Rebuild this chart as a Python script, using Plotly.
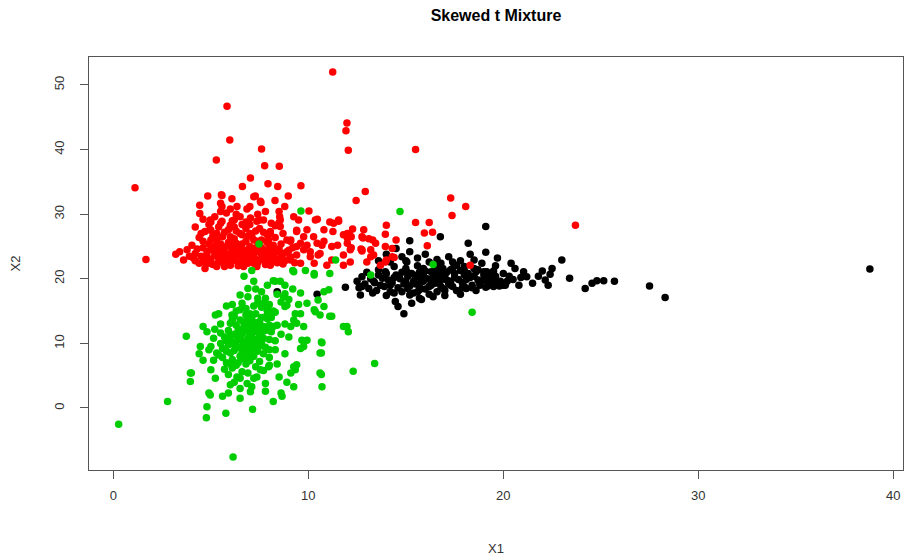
import plotly.graph_objects as go

# Cluster 1 (red): upper group, heavy tail upward
red_pts = [
    (11.25, 52.0), (5.83, 46.7), (5.97, 41.5), (11.98, 44.1), (11.93, 42.9), (12.05, 39.9),
    (7.6, 40.1), (5.28, 38.4), (7.76, 37.5), (8.51, 37.4), (7.03, 35.6), (6.62, 34.3),
    (7.93, 34.7), (8.43, 34.3), (9.62, 34.4), (1.11, 34.1), (12.92, 33.5), (12.45, 32.1),
    (15.5, 40.0), (17.3, 32.5), (18.07, 31.2), (17.37, 29.8), (15.5, 28.7), (16.2, 28.7),
    (15.95, 27.1), (16.37, 27.2), (16.1, 25.1), (23.7, 28.3), (18.3, 22.1), (14.0, 28.3),
    (13.95, 26.9), (13.45, 25.5), (12.84, 27.6), (12.27, 27.7), (11.55, 28.9), (11.1, 28.8),
    (11.8, 26.8), (4.84, 32.8), (5.57, 32.9), (6.08, 32.4), (7.2, 32.7), (7.57, 31.8),
    (8.29, 32.1), (8.97, 32.8), (8.79, 31.2), (10.03, 30.5), (10.46, 29.2), (4.43, 31.4),
    (4.43, 30.1), (5.57, 31.2), (7.0, 31.2), (6.34, 31.2), (6.85, 30.8), (5.5, 30.4),
    (9.93, 27.6), (9.4, 27.5), (8.56, 29.1), (8.56, 28.1), (8.05, 27.0), (7.5, 29.1),
    (6.2, 29.1), (5.0, 28.8), (5.0, 27.5), (10.27, 26.5), (10.7, 25.2), (11.2, 25.0),
    (3.2, 23.8), (1.67, 23.0), (12.2, 24.8), (12.7, 24.6), (13.2, 24.5), (12.0, 26.3),
    (12.8, 26.3), (13.3, 26.0), (12.75, 24.3), (13.35, 23.7), (13.7, 22.1), (13.95, 22.6),
    (14.3, 23.4), (14.3, 24.7), (12.15, 22.6), (11.5, 25.2), (14.5, 26.0), (14.4, 23.3),
    (12.75, 26.5), (13.1, 26.2), (13.0, 22.6), (14.0, 22.9), (12.1, 27.0), (12.0, 25.5),
    (12.15, 24.5), (11.8, 23.7), (11.3, 28.6), (10.8, 27.6), (10.45, 25.5), (10.6, 23.9),
    (10.95, 22.1), (10.3, 22.4), (9.25, 29.6), (9.1, 26.0), (9.6, 25.5), (9.76, 24.5),
    (9.4, 23.7), (9.1, 22.9), (9.6, 22.4), (10.1, 24.2), (5.54, 33.0), (7.28, 32.8),
    (5.5, 31.7), (7.54, 32.0), (8.53, 29.6), (8.48, 28.6), (9.5, 29.1), (10.36, 29.1),
    (4.97, 29.1), (4.97, 27.6), (4.7, 27.3), (5.57, 28.9), (6.0, 28.3), (6.5, 29.6),
    (7.03, 29.4), (7.36, 28.9), (7.7, 29.1), (11.55, 29.1), (12.0, 27.0), (12.2, 26.5),
    (13.95, 25.0), (11.26, 27.3), (10.8, 25.8), (9.93, 25.2), (10.5, 23.7), (10.1, 23.4),
    (11.2, 22.9), (11.8, 22.1), (12.75, 24.5), (13.2, 23.4), (9.4, 27.3), (9.76, 26.5),
    (9.08, 25.8), (9.4, 25.0), (8.73, 23.9), (9.08, 23.4), (8.05, 27.3), (7.96, 26.0),
    (3.78, 24.5), (4.03, 25.2), (4.1, 23.2), (4.63, 22.6), (4.7, 21.6), (5.3, 21.9),
    (6.0, 22.1), (6.68, 21.9), (7.36, 21.9), (8.05, 22.1), (8.56, 22.6),
    (4.5, 23.5), (4.8, 24.2), (5.0, 23.0), (5.2, 25.0), (5.4, 23.8), (5.5, 22.6),
    (5.6, 24.6), (5.8, 23.2), (5.9, 25.6), (6.0, 24.0), (6.1, 22.8), (6.2, 26.2),
    (6.3, 23.6), (6.4, 25.0), (6.5, 22.4), (6.6, 24.4), (6.7, 23.0), (6.8, 25.8),
    (6.9, 24.0), (7.0, 22.7), (7.1, 26.6), (7.2, 23.4), (7.3, 24.8), (7.4, 22.5),
    (7.5, 25.4), (7.6, 23.8), (7.7, 27.2), (7.8, 24.4), (7.9, 22.9), (8.0, 25.0),
    (8.2, 23.6), (8.3, 26.4), (8.4, 24.2), (8.6, 25.4), (8.8, 22.8), (5.0, 26.0),
    (5.3, 27.0), (5.6, 26.5), (5.9, 27.6), (6.2, 28.0), (6.5, 27.0), (6.8, 27.8),
    (7.0, 28.4), (4.6, 25.8), (4.3, 24.6), (4.9, 22.4), (5.7, 21.9), (6.4, 22.0),
    (7.8, 22.2), (4.4, 26.4), (4.9, 28.4), (5.2, 29.6), (5.8, 30.2), (6.1, 29.0),
    (6.6, 28.4), (7.3, 27.4), (7.6, 26.0), (8.3, 28.2), (8.7, 27.0), (9.0, 24.4),
    (8.5, 30.4), (6.0, 30.8), (5.1, 24.4), (6.9, 26.6), (7.4, 30.0), (5.4, 28.0),
    (4.2, 22.8), (3.9, 23.5), (3.6, 22.9), (3.4, 24.2), (8.1, 24.8), (8.9, 26.0),
    (6.3, 25.5), (5.7, 23.4), (6.9, 22.4),
    (4.2, 23.9), (4.4, 22.4), (4.6, 24.8), (4.7, 23.2), (4.9, 25.4), (5.1, 22.2),
    (5.2, 23.6), (5.3, 24.4), (5.5, 25.4), (5.6, 22.9), (5.7, 24.0), (5.9, 22.4),
    (6.0, 23.4), (6.1, 24.8), (6.2, 23.0), (6.3, 24.2), (6.4, 22.6), (6.5, 23.8),
    (6.6, 25.4), (6.7, 22.5), (6.8, 24.4), (6.9, 23.2), (7.0, 25.0), (7.1, 23.9),
    (7.2, 22.4), (7.3, 23.0), (7.4, 24.2), (7.5, 22.9), (7.6, 24.8), (7.7, 23.3),
    (7.8, 22.6), (7.9, 25.6), (8.0, 23.9), (8.1, 22.7), (8.2, 25.2), (8.3, 23.1),
    (8.4, 22.5), (8.5, 24.6), (8.6, 23.5), (8.7, 22.3), (8.9, 24.2), (9.0, 23.0),
    (9.2, 24.8), (9.3, 22.5), (5.0, 24.6), (5.4, 22.7), (5.8, 25.0), (6.2, 25.2),
    (6.6, 23.4), (7.0, 24.3), (7.4, 25.8), (7.8, 23.7), (8.2, 24.2), (4.8, 23.6),
    (5.6, 23.7), (6.4, 24.6), (7.2, 24.6), (8.0, 22.3),
    (4.5, 27.0), (5.1, 26.6), (5.5, 28.6), (5.7, 27.2), (6.0, 26.5), (6.3, 27.4),
    (6.6, 26.8), (7.0, 27.0), (7.2, 26.0), (7.5, 27.8), (7.9, 26.8), (8.1, 28.6),
    (5.3, 26.0), (6.8, 28.8), (6.3, 30.0), (7.8, 30.4), (4.6, 29.2), (4.2, 28.0),
]

# Cluster 2 (green): lower-left group, elongated along the diagonal
green_pts = [
    (0.27, -2.5), (6.14, -7.6), (2.78, 1.0), (13.4, 6.9), (12.3, 5.7), (9.62, 30.5),
    (14.7, 30.4), (7.47, 25.4), (11.4, 22.9), (13.2, 20.6), (16.4, 22.2), (18.4, 14.8),
    (9.2, 21.3), (9.85, 21.3), (10.3, 20.6), (11.1, 20.8), (8.56, 19.6), (8.3, 19.6),
    (7.1, 21.3), (6.7, 20.4), (8.2, 19.7), (6.5, 17.5), (10.8, 18.0), (11.05, 18.3),
    (9.93, 16.2), (10.5, 16.7), (10.3, 15.2), (10.8, 15.7), (11.2, 14.2), (11.8, 12.6),
    (12.05, 11.8), (10.7, 10.1), (9.6, 14.6), (9.25, 13.6), (9.1, 12.6), (9.76, 12.6),
    (5.23, 14.4), (3.74, 11.1), (4.46, 9.5), (3.95, 5.4), (10.6, 8.5), (10.6, 5.4),
    (9.25, 6.4), (9.1, 5.4), (9.93, 10.5), (9.4, 13.1), (8.73, 17.2), (8.9, 15.9),
    (7.7, 16.2), (7.88, 14.4), (6.08, 14.4), (5.5, 11.6), (5.0, 9.5), (9.6, 9.2),
    (8.8, 17.7), (9.33, 14.6), (8.8, 15.7), (7.88, 15.2), (6.5, 15.2), (6.0, 13.1),
    (4.9, 9.0), (5.14, 10.8), (5.3, 8.5), (5.14, 7.4), (5.0, 5.9), (5.23, 4.6),
    (3.95, 4.1), (4.9, 2.3), (4.8, 0.2), (4.77, -1.5), (5.77, -0.8), (7.14, -0.2),
    (6.5, 1.5), (5.6, 1.8), (4.97, 2.0), (8.2, 1.0), (8.6, 2.3), (7.8, 2.6),
    (9.25, 3.3), (9.33, 5.9), (9.4, 6.7), (10.67, 10.2), (10.67, 8.5), (10.67, 5.2),
    (10.7, 3.3), (5.9, 2.3), (6.0, 3.6), (6.34, 4.8), (7.03, 2.5), (7.1, 3.3),
    (7.2, 4.6), (8.65, 1.8), (7.96, 6.4), (7.54, 5.9), (7.36, 4.8), (6.86, 3.8),
    (9.67, 10.5), (9.76, 9.5), (11.98, 12.6), (11.1, 14.2), (10.36, 14.9), (10.6, 14.4),
    (10.3, 20.8), (9.25, 21.1), (4.0, 5.4),
    (5.8, 7.0), (6.0, 8.5), (6.2, 9.8), (6.4, 11.0), (6.6, 12.2), (6.8, 13.4),
    (7.0, 14.6), (7.2, 15.8), (7.4, 17.0), (7.6, 18.0), (6.0, 10.5), (6.3, 12.8),
    (6.5, 8.0), (6.7, 9.4), (6.9, 10.8), (7.1, 12.0), (7.3, 13.2), (7.5, 11.0),
    (7.7, 12.6), (7.9, 13.8), (8.1, 11.8), (8.3, 14.8), (6.1, 6.2), (6.4, 7.0),
    (6.8, 6.8), (7.0, 8.2), (7.2, 9.6), (7.4, 8.8), (7.6, 10.2), (7.8, 9.4),
    (8.0, 10.6), (8.2, 12.6), (5.6, 9.2), (5.8, 10.4), (5.9, 12.0), (6.1, 13.6),
    (6.3, 15.0), (6.6, 16.2), (6.9, 17.2), (7.3, 18.4), (7.8, 17.0), (8.0, 16.0),
    (8.4, 17.6), (8.6, 16.4), (8.2, 15.0), (7.6, 14.0), (7.0, 11.6), (6.6, 10.4),
    (6.2, 11.4), (5.4, 8.2), (5.7, 6.0), (6.6, 5.6), (7.5, 7.2), (8.0, 7.8),
    (8.3, 9.0), (8.6, 11.4), (8.8, 13.0), (9.0, 11.0), (5.5, 13.0), (5.2, 12.2),
    (6.8, 15.4), (7.4, 16.2), (5.9, 5.2), (6.2, 4.0), (6.5, 3.0), (8.4, 6.8),
    (8.8, 8.4), (4.6, 7.4), (4.4, 8.4), (7.9, 19.0), (7.2, 19.6), (8.8, 19.0),
    (9.2, 18.4), (9.6, 17.8), (9.0, 16.8), (9.5, 16.0), (6.9, 18.5), (5.8, 15.8),
    (5.4, 14.6), (4.8, 11.8), (4.6, 12.6), (8.5, 4.8), (7.8, 3.8), (8.9, 4.0),
    (5.6, 7.8), (5.8, 8.8), (5.9, 9.8), (6.0, 11.3), (6.1, 7.5), (6.2, 8.9),
    (6.3, 10.3), (6.3, 6.6), (6.4, 9.4), (6.4, 12.0), (6.5, 10.8), (6.5, 13.6),
    (6.6, 8.6), (6.6, 11.5), (6.7, 7.6), (6.7, 10.0), (6.7, 13.0), (6.8, 9.0),
    (6.8, 11.9), (6.8, 14.4), (6.9, 8.0), (6.9, 9.9), (6.9, 12.6), (7.0, 7.3),
    (7.0, 10.2), (7.0, 13.3), (7.1, 9.0), (7.1, 11.0), (7.1, 14.0), (7.2, 8.0),
    (7.2, 10.6), (7.2, 12.4), (7.3, 9.9), (7.3, 11.8), (7.3, 14.6), (7.4, 10.4),
    (7.4, 12.4), (7.5, 9.6), (7.5, 13.4), (7.6, 11.6), (7.7, 8.4), (7.7, 10.8),
    (7.8, 12.0), (7.9, 15.2), (8.0, 9.0), (8.0, 12.8), (8.1, 14.0), (8.3, 10.4),
    (8.4, 12.8), (5.7, 11.0), (6.0, 6.8), (6.2, 14.2), (6.5, 4.6), (6.9, 5.4),
    (7.3, 6.4), (7.7, 5.8), (8.0, 6.6), (5.5, 10.0), (6.1, 16.0), (7.6, 15.6),
]

# Cluster 3 (black): right group with a long tail to the right
black_pts = [
    (8.4, 18.0), (10.45, 17.6), (11.9, 18.7), (38.8, 21.5), (28.3, 17.1), (27.5, 18.9),
    (25.7, 19.6), (25.15, 19.7), (24.8, 19.7), (24.55, 19.3), (24.2, 18.5), (23.4, 20.1),
    (23.0, 22.9), (22.5, 21.6), (22.4, 20.7), (22.15, 19.8), (22.3, 19.0), (21.04, 21.1),
    (21.2, 20.3), (21.5, 19.3), (20.8, 19.0), (19.0, 21.1), (19.4, 20.7), (19.1, 19.8),
    (19.85, 19.6), (20.1, 19.0), (19.1, 18.7), (19.8, 18.9), (19.1, 28.1), (19.1, 24.1),
    (16.77, 26.5), (18.2, 25.5), (15.2, 25.9), (18.5, 22.9), (14.5, 24.7), (14.8, 23.4),
    (15.05, 22.6), (15.6, 23.2), (14.4, 21.9), (13.95, 21.1), (14.1, 19.8), (12.75, 20.3),
    (12.5, 19.6), (12.75, 18.8), (12.67, 17.5), (13.1, 18.5), (14.46, 16.5), (14.9, 14.6),
    (14.6, 15.7), (17.0, 17.4), (18.1, 18.5),
    (17.6, 22.1), (16.9, 21.6), (16.3, 21.1), (15.6, 20.6), (15.9, 19.6), (16.6, 20.1),
    (17.1, 19.8), (18.0, 20.6), (18.6, 21.1), (19.0, 20.6), (19.3, 20.1), (19.7, 19.6),
    (20.0, 19.0), (19.5, 18.8), (18.8, 19.0), (18.0, 18.8), (17.3, 19.0), (16.3, 19.0),
    (15.4, 19.6), (15.1, 18.5), (15.7, 18.3), (16.6, 18.0), (15.2, 17.5), (15.7, 17.0),
    (14.2, 18.0), (13.7, 19.0), (13.35, 19.6), (13.8, 20.1), (14.5, 20.6), (15.05, 21.1),
    (15.9, 21.6), (16.6, 21.9), (18.0, 21.9), (18.5, 21.6), (19.15, 21.1),
    (13.5, 18.2), (13.9, 18.8), (14.3, 19.4), (14.7, 20.0), (15.1, 20.4), (15.5, 19.2),
    (15.9, 20.8), (16.3, 19.6), (16.7, 20.4), (17.1, 21.0), (17.5, 20.2), (17.9, 19.4),
    (18.3, 20.2), (18.7, 19.8), (19.1, 20.4), (19.5, 21.2), (20.3, 20.4), (20.6, 21.6),
    (20.0, 20.8), (14.8, 18.0), (15.4, 17.8), (16.0, 18.4), (16.8, 18.8), (17.6, 18.2),
    (18.4, 19.0), (15.0, 21.6), (15.6, 22.0), (16.2, 22.6), (16.8, 22.4), (17.4, 21.6),
    (17.8, 22.8), (14.2, 22.6), (13.6, 21.4), (13.2, 20.0), (12.9, 19.2), (14.0, 17.4),
    (15.8, 16.8), (16.4, 17.2), (17.2, 23.4), (16.0, 23.8), (15.2, 24.2), (14.0, 23.8),
    (13.6, 22.8), (18.9, 22.4), (19.6, 22.0), (20.4, 22.4), (21.8, 20.4), (22.0, 21.2),
    (20.9, 20.2), (19.3, 19.2), (18.6, 18.2), (17.8, 17.6), (15.3, 16.2), (13.4, 19.4),
    (16.5, 21.4), (15.7, 21.0), (14.9, 19.2), (17.3, 19.6), (18.0, 21.2), (19.7, 23.2),
    (18.3, 23.8),
    (14.2, 19.0), (14.4, 20.2), (14.6, 18.6), (14.8, 21.0), (15.0, 19.6), (15.2, 18.9),
    (15.3, 20.8), (15.5, 20.2), (15.7, 18.8), (15.8, 19.8), (16.0, 21.2), (16.1, 20.0),
    (16.2, 18.8), (16.4, 20.6), (16.5, 19.3), (16.7, 21.2), (16.8, 19.8), (16.9, 18.5),
    (17.0, 20.6), (17.2, 19.2), (17.3, 21.4), (17.4, 18.8), (17.5, 20.8), (17.7, 19.9),
    (17.8, 21.3), (17.9, 18.6), (18.1, 19.9), (18.2, 20.8), (18.4, 18.6), (18.5, 20.4),
    (18.7, 21.4), (18.8, 19.3), (19.0, 19.8), (19.2, 18.9), (19.4, 19.8), (19.6, 20.4),
    (20.2, 19.6), (20.5, 19.9), (14.0, 20.8), (13.6, 20.6), (13.0, 21.0), (12.6, 18.6),
    (13.3, 17.8), (15.6, 18.0), (16.2, 17.6), (17.0, 18.2), (14.4, 17.8), (15.0, 22.8),
    (16.6, 23.0), (17.4, 22.6),
]

x_ticks = [0, 10, 20, 30, 40]
y_ticks = [0, 10, 20, 30, 40, 50]

FONT = "Liberation Sans, Arial, sans-serif"
AXIS_COLOR = "#555555"

fig = go.Figure()

for pts, color in [(black_pts, "#000000"), (red_pts, "#FF0000"), (green_pts, "#00CD00")]:
    fig.add_trace(go.Scatter(
        x=[p[0] for p in pts],
        y=[p[1] for p in pts],
        mode="markers",
        marker=dict(color=color, size=7.5, line=dict(width=0)),
        showlegend=False,
        hoverinfo="x+y",
    ))

axis_common = dict(
    showgrid=False, zeroline=False, showline=True, mirror=True,
    linecolor=AXIS_COLOR, linewidth=1,
    ticks="outside", ticklen=8, tickcolor=AXIS_COLOR, tickwidth=1,
    tickfont=dict(family=FONT, size=13, color="#333333"),
)

fig.update_layout(
    width=910, height=560,
    margin=dict(l=89, r=7, t=57, b=90),
    paper_bgcolor="white", plot_bgcolor="white",
    title=dict(
        text="<b>Skewed t Mixture</b>",
        font=dict(family=FONT, size=16, color="#000000"),
        x=0.5, xref="paper", xanchor="center",
        y=1 - 15 / 560, yref="container", yanchor="middle",
    ),
    xaxis=dict(range=[-1.25, 40.5], tickmode="array", tickvals=x_ticks,
               ticklabelstandoff=5, **axis_common),
    yaxis=dict(range=[-9.6, 54.33], tickmode="array", tickvals=y_ticks, tickangle=-90,
               ticklabelstandoff=11, **axis_common),
    annotations=[
        dict(text="X1", x=0.5, xref="paper", y=-0.189, yref="paper",
             xanchor="center", yanchor="middle", showarrow=False,
             font=dict(family=FONT, size=13, color="#333333")),
        dict(text="X2", x=-0.0909, xref="paper", y=0.5, yref="paper",
             xanchor="center", yanchor="middle", showarrow=False, textangle=-90,
             font=dict(family=FONT, size=13, color="#333333")),
    ],
)

fig.write_html("out.html")
